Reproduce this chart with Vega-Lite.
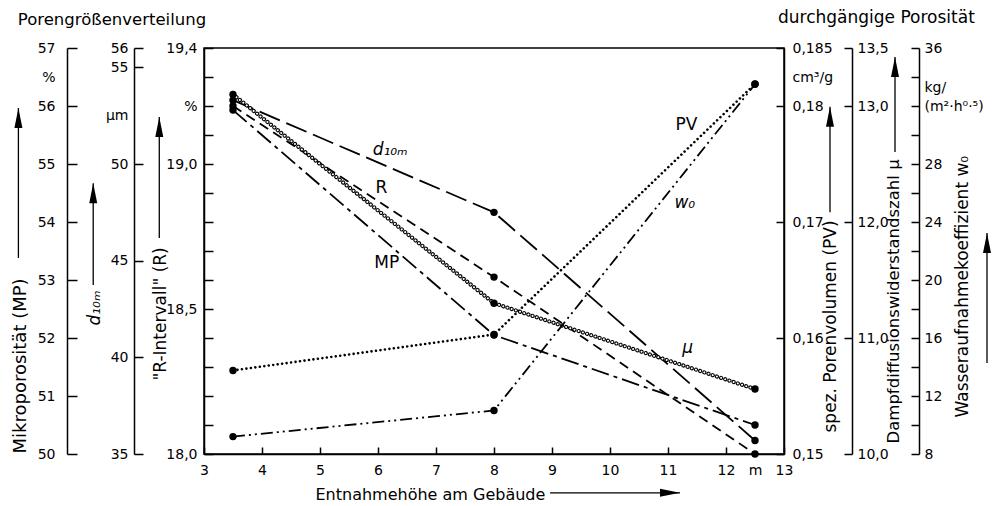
{
  "$schema": "https://vega.github.io/schema/vega-lite/v6.json",
  "width": 580,
  "height": 406,
  "autosize": {"type": "none"},
  "padding": {"left": 204, "top": 48, "right": 208, "bottom": 52},
  "background": "white",
  "config": {
    "font": "DejaVu Sans",
    "view": {"stroke": "black", "strokeWidth": 1.5},
    "axis": {
      "grid": false,
      "domainColor": "black", "domainWidth": 1.5,
      "tickColor": "black", "tickWidth": 1.5,
      "labelColor": "black", "labelFont": "DejaVu Sans", "labelFontSize": 14,
      "titleColor": "black", "titleFont": "DejaVu Sans", "titleFontSize": 17, "titleFontWeight": "normal",
      "labelOverlap": false, "labelFlush": false, "labelBound": false
    },
    "text": {"font": "DejaVu Sans", "color": "black"}
  },
  "data": {
    "values": [
      {"h": 3.5, "MP": 55.93, "d10m": 53.3, "R": 19.2, "mu": 13.1, "PV": 0.1572, "w0": 9.2},
      {"h": 8, "MP": 52.05, "d10m": 47.5, "R": 18.61, "mu": 11.3, "PV": 0.1603, "w0": 11.0},
      {"h": 12.5, "MP": 50.5, "d10m": 35.7, "R": 18.0, "mu": 10.56, "PV": 0.1819, "w0": 33.5}
    ]
  },
  "encoding": {
    "x": {
      "field": "h", "type": "quantitative",
      "scale": {"domain": [3, 13], "nice": false, "zero": false},
      "axis": {
        "orient": "bottom",
        "values": [3, 4, 5, 6, 7, 8, 9, 10, 11, 12, 12.5, 13],
        "tickSize": -7,
        "tickOpacity": {"condition": {"test": "datum.value == 12.5", "value": 0}, "value": 1},
        "labelPadding": 16,
        "labelExpr": "datum.value == 12.5 ? 'm' : format(datum.value, 'd')",
        "title": "Entnahmehöhe am Gebäude",
        "titleFontSize": 16,
        "titleAlign": "left", "titleBaseline": "middle",
        "titleX": 111, "titleY": 40
      }
    }
  },
  "layer": [
    {
      "encoding": {
        "y": {
          "field": "R", "type": "quantitative",
          "scale": {"domain": [18.0, 19.4], "nice": false, "zero": false},
          "axis": {
            "orient": "left", "offset": 0,
            "values": [18.0, 18.1, 18.2, 18.3, 18.4, 18.5, 18.6, 18.7, 18.8, 18.9, 19.0, 19.1, 19.2, 19.3, 19.4],
            "tickSize": -9, "labelPadding": 16,
            "labelExpr": "datum.value == 19.4 ? '19,4' : datum.value == 19.2 ? '%' : datum.value == 19 ? '19,0' : datum.value == 18.5 ? '18,5' : datum.value == 18 ? '18,0' : ''",
            "title": "\"R-Intervall\" (R)",
            "titleAngle": -90, "titleAlign": "left", "titleBaseline": "middle",
            "titleX": -44, "titleY": 332
          }
        }
      },
      "layer": [
        {"mark": {"type": "line", "color": "black", "strokeWidth": 1.8, "strokeDash": [10, 6]}},
        {"mark": {"type": "point", "filled": true, "color": "black", "size": 55, "opacity": 1}}
      ]
    },
    {
      "encoding": {
        "y": {
          "field": "MP", "type": "quantitative",
          "scale": {"domain": [50, 57], "nice": false, "zero": false},
          "axis": {
            "orient": "left", "offset": 137,
            "values": [50, 51, 52, 53, 54, 55, 56, 56.5, 57],
            "tickSize": -10, "labelPadding": 22,
            "tickOpacity": {"condition": {"test": "datum.value == 56.5", "value": 0}, "value": 1},
            "labelExpr": "datum.value == 56.5 ? '%' : format(datum.value, 'd')",
            "title": "Mikroporosität (MP)",
            "titleFontSize": 18,
            "titleAngle": -90, "titleAlign": "left", "titleBaseline": "middle",
            "titleX": -47, "titleY": 405
          }
        }
      },
      "layer": [
        {"mark": {"type": "line", "color": "black", "strokeWidth": 1.8, "strokeDash": [18, 5, 4, 5]}},
        {"mark": {"type": "point", "filled": true, "color": "black", "size": 55, "opacity": 1}}
      ]
    },
    {
      "encoding": {
        "y": {
          "field": "d10m", "type": "quantitative",
          "scale": {"domain": [35, 56], "nice": false, "zero": false},
          "axis": {
            "orient": "left", "offset": 70,
            "values": [35, 40, 45, 50, 52.5, 55, 56],
            "tickSize": -9, "labelPadding": 15,
            "tickOpacity": {"condition": {"test": "datum.value == 52.5", "value": 0}, "value": 1},
            "labelExpr": "datum.value == 52.5 ? 'μm' : format(datum.value, 'd')",
            "title": "d₁₀ₘ",
            "titleFontStyle": "italic",
            "titleAngle": -90, "titleAlign": "left", "titleBaseline": "middle",
            "titleX": -40, "titleY": 277
          }
        }
      },
      "layer": [
        {"mark": {"type": "line", "color": "black", "strokeWidth": 1.8, "strokeDash": [22, 7]}},
        {"mark": {"type": "point", "filled": true, "color": "black", "size": 55, "opacity": 1}}
      ]
    },
    {
      "encoding": {
        "y": {
          "field": "PV", "type": "quantitative",
          "scale": {"domain": [0.15, 0.185], "nice": false, "zero": false},
          "axis": {
            "orient": "right", "offset": 0,
            "values": [0.15, 0.16, 0.17, 0.18, 0.1825, 0.185],
            "tickSize": -8, "labelPadding": 16,
            "tickOpacity": {"condition": {"test": "datum.value == 0.1825", "value": 0}, "value": 1},
            "labelExpr": "datum.value == 0.1825 ? 'cm³/g' : replace(format(datum.value, '.3~f'), '.', ',')",
            "title": "spez. Porenvolumen (PV)",
            "titleAngle": -90, "titleAlign": "left", "titleBaseline": "middle",
            "titleX": 46, "titleY": 384
          }
        }
      },
      "layer": [
        {"mark": {"type": "line", "color": "black", "strokeWidth": 2.6, "strokeDash": [0.01, 4.5], "strokeCap": "round"}},
        {"mark": {"type": "point", "filled": true, "color": "black", "size": 55, "opacity": 1}}
      ]
    },
    {
      "encoding": {
        "y": {
          "field": "mu", "type": "quantitative",
          "scale": {"domain": [10, 13.5], "nice": false, "zero": false},
          "axis": {
            "orient": "right", "offset": 68,
            "values": [10, 11, 12, 13, 13.5],
            "tickSize": -8, "labelPadding": 13,
            "labelExpr": "replace(format(datum.value, '.1f'), '.', ',')",
            "title": "Dampfdiffusionswiderstandszahl μ",
            "titleFontSize": 16.5,
            "titleAngle": -90, "titleAlign": "left", "titleBaseline": "middle",
            "titleX": 41, "titleY": 395
          }
        }
      },
      "layer": [
        {"mark": {"type": "line", "color": "black", "strokeWidth": 4.2, "strokeDash": [0.01, 4.4], "strokeCap": "round"}},
        {"mark": {"type": "line", "color": "white", "strokeWidth": 2.0, "strokeDash": [0.01, 4.4], "strokeCap": "round"}},
        {"mark": {"type": "point", "filled": true, "color": "black", "size": 55, "opacity": 1}}
      ]
    },
    {
      "encoding": {
        "y": {
          "field": "w0", "type": "quantitative",
          "scale": {"domain": [8, 36], "nice": false, "zero": false},
          "axis": {
            "orient": "right", "offset": 135,
            "values": [8, 10, 12, 14, 16, 18, 20, 22, 24, 26, 28, 30, 32, 33.25, 34, 36],
            "tickSize": -8, "labelPadding": 13,
            "tickOpacity": {"condition": {"test": "datum.value == 33.25", "value": 0}, "value": 1},
            "labelExpr": "datum.value == 33.25 ? 'kg/' : datum.value == 32 ? '(m²·h⁰·⁵)' : indexof([8, 12, 16, 20, 24, 28, 36], datum.value) >= 0 ? format(datum.value, 'd') : ''",
            "title": "Wasseraufnahmekoeffizient w₀",
            "titleAngle": -90, "titleAlign": "left", "titleBaseline": "middle",
            "titleX": 43, "titleY": 369
          }
        }
      },
      "layer": [
        {"mark": {"type": "line", "color": "black", "strokeWidth": 1.8, "strokeDash": [12, 4, 2, 4, 2, 4]}},
        {"mark": {"type": "point", "filled": true, "color": "black", "size": 55, "opacity": 1}}
      ]
    },
    {
      "data": {"values": [
        {"h": -0.2, "h2": -0.2, "ya": 18.676, "yb": 19.193, "ang": 0},
        {"h": 1.09, "h2": 1.09, "ya": 18.583, "yb": 18.934, "ang": 0},
        {"h": 2.229, "h2": 2.229, "ya": 18.745, "yb": 19.162, "ang": 0},
        {"h": 13.793, "h2": 13.793, "ya": 18.834, "yb": 19.197, "ang": 0},
        {"h": 14.914, "h2": 14.914, "ya": 19.041, "yb": 19.369, "ang": 0},
        {"h": 16.5, "h2": 16.5, "ya": 18.314, "yb": 18.762, "ang": 0},
        {"h": 8.966, "h2": 11.207, "ya": 17.866, "yb": 17.866, "ang": 90}
      ]},
      "layer": [
        {
          "mark": {"type": "rule", "color": "black", "strokeWidth": 1.3},
          "encoding": {
            "x2": {"field": "h2"},
            "y": {"field": "ya", "type": "quantitative", "scale": {"domain": [18, 19.4], "nice": false, "zero": false}, "axis": null},
            "y2": {"field": "yb"}
          }
        },
        {
          "mark": {"type": "point", "shape": "M0,0L0.4,2L-0.4,2Z", "filled": true, "color": "black", "size": 400, "opacity": 1},
          "encoding": {
            "x": {"field": "h2", "type": "quantitative"},
            "y": {"field": "yb", "type": "quantitative", "scale": {"domain": [18, 19.4], "nice": false, "zero": false}, "axis": null},
            "angle": {"field": "ang", "type": "quantitative", "scale": null}
          }
        }
      ]
    },
    {
      "data": {"values": [
        {"h": 6.06, "yr": 18.916, "t": "R"},
        {"h": 6.15, "yr": 18.658, "t": "MP"},
        {"h": 11.32, "yr": 19.134, "t": "PV"}
      ]},
      "mark": {"type": "text", "fontSize": 17, "align": "center", "baseline": "middle"},
      "encoding": {
        "y": {"field": "yr", "type": "quantitative", "scale": {"domain": [18, 19.4], "nice": false, "zero": false}, "axis": null},
        "text": {"field": "t"}
      }
    },
    {
      "data": {"values": [
        {"h": 6.21, "yr": 19.048, "t": "d₁₀ₘ"},
        {"h": 11.29, "yr": 18.866, "t": "w₀"},
        {"h": 11.34, "yr": 18.366, "t": "μ"}
      ]},
      "mark": {"type": "text", "fontSize": 17, "fontStyle": "italic", "align": "center", "baseline": "middle"},
      "encoding": {
        "y": {"field": "yr", "type": "quantitative", "scale": {"domain": [18, 19.4], "nice": false, "zero": false}, "axis": null},
        "text": {"field": "t"}
      }
    },
    {
      "data": {"values": [{"h": -0.21, "yr": 19.497, "t": "Porengrößenverteilung"}]},
      "mark": {"type": "text", "fontSize": 16.5, "align": "left", "baseline": "middle"},
      "encoding": {
        "y": {"field": "yr", "type": "quantitative", "scale": {"domain": [18, 19.4], "nice": false, "zero": false}, "axis": null},
        "text": {"field": "t"}
      }
    },
    {
      "data": {"values": [{"h": 16.29, "yr": 19.504, "t": "durchgängige Porosität"}]},
      "mark": {"type": "text", "fontSize": 17, "align": "right", "baseline": "middle"},
      "encoding": {
        "y": {"field": "yr", "type": "quantitative", "scale": {"domain": [18, 19.4], "nice": false, "zero": false}, "axis": null},
        "text": {"field": "t"}
      }
    }
  ],
  "resolve": {"scale": {"y": "independent"}}
}
